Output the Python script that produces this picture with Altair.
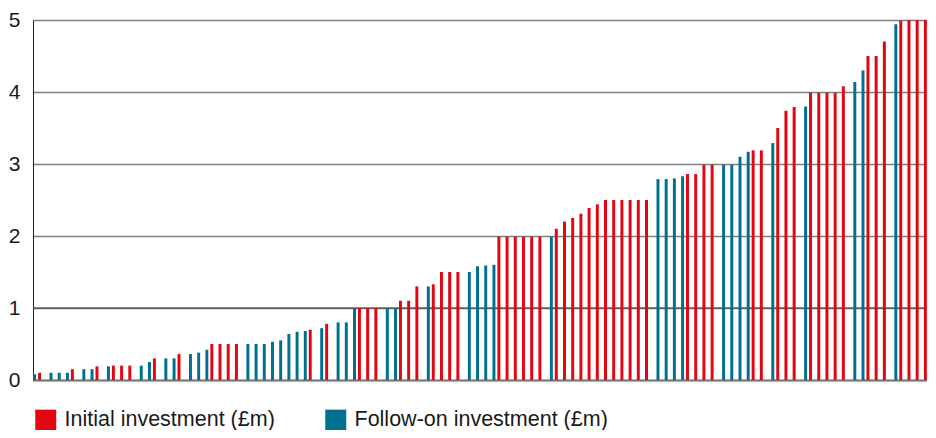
import altair as alt
import pandas as pd

N = None
# one entry per slot (109 slots); None = no bar
follow_on = [0.08, N, 0.10, 0.10, 0.10, N, 0.15, 0.15, N, 0.19,
             N, N, N, 0.20, 0.25, N, 0.30, 0.30, N, 0.36,
             0.38, 0.42, N, N, N, N, 0.50, 0.50, 0.50, 0.53,
             0.55, 0.64, 0.67, 0.68, N, 0.72, N, 0.80, 0.80, 1.00,
             N, N, N, 1.00, 1.00, N, N, N, 1.30, N,
             N, N, N, 1.50, 1.58, 1.59, 1.60, N, N, N,
             N, N, N, 1.99, N, N, N, N, N, N,
             N, N, N, N, N, N, 2.79, 2.79, 2.80, 2.83,
             N, N, N, N, 2.99, 2.99, 3.10, 3.17, N, N,
             3.29, N, N, N, 3.80, N, N, N, N, N,
             4.14, 4.30, N, N, N, 4.94, N, N, N]
initial = [0.10, N, N, N, 0.15, N, N, 0.19, N, 0.20,
           0.20, 0.20, N, N, 0.30, N, N, 0.36, N, N,
           N, 0.50, 0.50, 0.50, 0.50, N, N, N, N, N,
           N, N, N, 0.70, N, 0.78, N, N, N, 1.00,
           1.00, 1.00, N, N, 1.10, 1.10, 1.30, N, 1.33, 1.50,
           1.50, 1.50, N, N, N, N, 1.99, 1.99, 1.99, 1.99,
           1.99, 1.99, N, 2.10, 2.20, 2.25, 2.31, 2.39, 2.44, 2.50,
           2.50, 2.50, 2.50, 2.50, 2.50, N, N, N, N, 2.86,
           2.86, 2.99, 2.99, N, N, N, N, 3.19, 3.19, N,
           3.50, 3.74, 3.79, N, 3.99, 3.99, 3.99, 3.99, 4.08, N,
           N, 4.50, 4.50, 4.70, N, 4.99, 5.00, 5.00, 5.00]

SER_I = "Initial investment (£m)"
SER_F = "Follow-on investment (£m)"
y_ticks = [0, 1, 2, 3, 4, 5]
highlight_lines = [1]

rows = []
for i, v in enumerate(follow_on):
    if v is not None:
        rows.append({"slot": i, "series": SER_F, "value": v})
for i, v in enumerate(initial):
    if v is not None:
        rows.append({"slot": i, "series": SER_I, "value": v})
df = pd.DataFrame(rows)
nslots = len(initial)

FONT = "Liberation Sans"

bars = alt.Chart(df).mark_bar().encode(
    x=alt.X("slot:O", scale=alt.Scale(domain=list(range(nslots)), paddingInner=0, paddingOuter=0),
            axis=alt.Axis(labels=False, ticks=False, title=None, domain=True,
                          domainColor="#7a7a7a", domainWidth=2, grid=False)),
    xOffset=alt.XOffset("series:N", scale=alt.Scale(domain=[SER_F, SER_I], paddingInner=0.4, paddingOuter=0.03)),
    y=alt.Y("value:Q", scale=alt.Scale(domain=[0, 5], nice=False),
            axis=alt.Axis(values=y_ticks, title=None, ticks=False, grid=True,
                          gridColor="#808080", gridWidth=1.5, domainColor="#222222",
                          domainWidth=1, labelFontSize=21, labelFont=FONT, labelColor="#1a1a1a",
                          labelPadding=13, format="d")),
    color=alt.Color("series:N", scale=alt.Scale(domain=[SER_I, SER_F], range=["#E20613", "#00708F"]),
                    legend=alt.Legend(title=None, orient="none", legendX=2, legendY=389,
                                      direction="horizontal", symbolType="square", symbolSize=440,
                                      symbolStrokeWidth=0, labelFontSize=21.5, labelFont=FONT,
                                      labelColor="#1a1a1a", labelOffset=8, columnPadding=50,
                                      labelLimit=500, padding=0)),
)

rule = alt.Chart(pd.DataFrame({"y": highlight_lines})).mark_rule(color="#333333", strokeWidth=1).encode(
    y="y:Q"
)

chart = alt.layer(rule, bars).properties(
    width=894, height=360,
    autosize=alt.AutoSizeParams(type="none"),
    padding={"left": 25, "top": 12, "right": 0, "bottom": 50},
).configure_view(stroke=None)

chart.save("out.html", embed_options={"renderer": "svg", "actions": False})
